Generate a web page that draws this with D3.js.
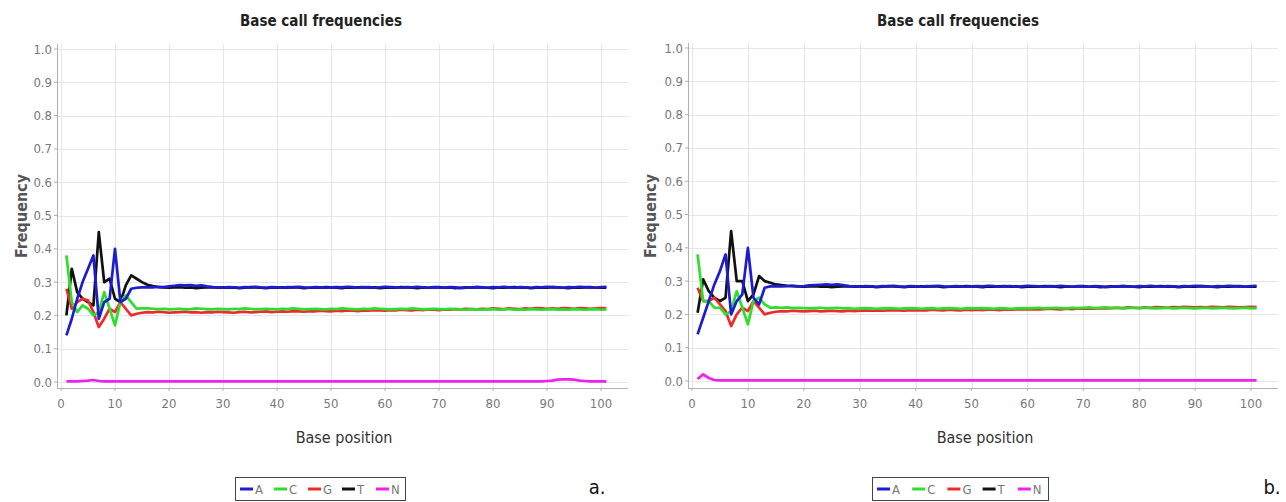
<!DOCTYPE html>
<html>
<head>
<meta charset="utf-8">
<script src="https://cdn.jsdelivr.net/npm/d3@7"></script>
<style>
  body { margin: 0; background: #fff; }
  text { font-family: "DejaVu Sans Condensed", "Liberation Sans Narrow", sans-serif; }
</style>
</head>
<body>
<svg id="chart" width="1286" height="502"></svg>
<script>
// ---- data ----
var positions = d3.range(1, 102);
var bases = ["A", "C", "G", "T", "N"];
var baseColors = ["#1c1cd0", "#2edd2e", "#ee2a2a", "#111111", "#ee22ee"];
var yTicks = [0, 0.1, 0.2, 0.3, 0.4, 0.5, 0.6, 0.7, 0.8, 0.9, 1.0];
var xTicks = [0, 10, 20, 30, 40, 50, 60, 70, 80, 90, 100];

// sample a.
var aA = [0.140,0.190,0.250,0.300,0.340,0.380,0.190,0.240,0.250,0.400,0.240,0.250,0.280,0.283,0.284,
  0.285,0.284,0.286,0.285,0.287,0.289,0.291,0.290,0.291,0.289,0.290,0.287,0.285,0.284,0.283,
  0.285,0.284,0.283,0.285,0.284,0.286,0.284,0.283,0.285,0.284,
  0.283,0.285,0.284,0.286,0.284,0.283,0.285,0.284,0.283,0.284,
  0.285,0.284,0.286,0.285,0.283,0.284,0.285,0.283,0.284,0.286,
  0.285,0.284,0.283,0.285,0.284,0.286,0.284,0.283,0.285,0.284,
  0.283,0.285,0.284,0.282,0.283,0.284,0.285,0.284,0.283,0.285,
  0.284,0.286,0.284,0.283,0.285,0.284,0.283,0.285,0.284,0.286,
  0.285,0.284,0.283,0.285,0.284,0.286,0.285,0.284,0.283,0.285,0.286];
var aC = [0.380,0.240,0.210,0.230,0.220,0.200,0.210,0.270,0.220,0.170,0.240,0.260,0.240,0.220,0.222,
  0.221,0.220,0.219,0.220,0.218,
  0.219,0.220,0.218,0.219,0.221,0.220,0.219,0.218,0.220,0.219,
  0.218,0.220,0.219,0.221,0.220,0.218,0.219,0.220,0.219,0.218,
  0.220,0.219,0.221,0.220,0.218,0.219,0.220,0.219,0.218,0.220,
  0.219,0.221,0.220,0.219,0.218,0.220,0.219,0.221,0.220,0.219,
  0.218,0.219,0.220,0.219,0.221,0.220,0.218,0.219,0.220,0.219,
  0.218,0.220,0.219,0.218,0.217,0.219,0.218,0.217,0.218,0.219,
  0.217,0.218,0.219,0.217,0.218,0.217,0.219,0.218,0.217,0.218,
  0.219,0.217,0.218,0.217,0.219,0.218,0.217,0.218,0.219,0.217,0.218];
var aG = [0.280,0.220,0.240,0.250,0.245,0.210,0.165,0.190,0.220,0.210,0.240,0.220,0.200,0.205,0.208,
  0.210,0.209,0.211,0.210,0.208,
  0.209,0.210,0.211,0.209,0.210,0.208,0.210,0.209,0.211,0.210,
  0.209,0.208,0.210,0.211,0.209,0.210,0.211,0.212,0.210,0.211,
  0.212,0.211,0.213,0.212,0.211,0.213,0.212,0.214,0.213,0.212,
  0.214,0.213,0.215,0.214,0.213,0.215,0.214,0.216,0.215,0.214,
  0.216,0.215,0.217,0.216,0.215,0.217,0.216,0.218,0.217,0.216,
  0.218,0.217,0.219,0.218,0.220,0.219,0.218,0.220,0.219,0.221,
  0.220,0.219,0.221,0.220,0.219,0.221,0.220,0.222,0.221,0.220,
  0.221,0.220,0.222,0.221,0.220,0.222,0.221,0.220,0.221,0.222,0.221];
var aT = [0.200,0.340,0.270,0.250,0.240,0.230,0.450,0.300,0.310,0.250,0.240,0.290,0.320,0.310,0.300,
  0.292,0.288,0.285,0.284,0.283,
  0.284,0.285,0.283,0.284,0.282,0.283,0.284,0.285,0.283,0.284,
  0.283,0.284,0.282,0.283,0.285,0.284,0.283,0.282,0.284,0.283,
  0.284,0.283,0.285,0.284,0.282,0.283,0.284,0.283,0.285,0.284,
  0.283,0.282,0.284,0.283,0.284,0.285,0.283,0.284,0.282,0.283,
  0.284,0.283,0.285,0.284,0.283,0.282,0.284,0.283,0.284,0.285,
  0.283,0.284,0.282,0.283,0.284,0.283,0.285,0.284,0.283,0.282,
  0.284,0.283,0.284,0.285,0.283,0.284,0.282,0.283,0.284,0.283,
  0.285,0.284,0.283,0.282,0.284,0.283,0.284,0.285,0.283,0.284,0.283];
var aN = [0.002,0.002,0.002,0.003,0.004,0.006,0.003,0.002,0.002,0.002,
  0.002,0.002,0.002,0.002,0.002,0.002,0.002,0.002,0.002,0.002,
  0.002,0.002,0.002,0.002,0.002,0.002,0.002,0.002,0.002,0.002,
  0.002,0.002,0.002,0.002,0.002,0.002,0.002,0.002,0.002,0.002,
  0.002,0.002,0.002,0.002,0.002,0.002,0.002,0.002,0.002,0.002,
  0.002,0.002,0.002,0.002,0.002,0.002,0.002,0.002,0.002,0.002,
  0.002,0.002,0.002,0.002,0.002,0.002,0.002,0.002,0.002,0.002,
  0.002,0.002,0.002,0.002,0.002,0.002,0.002,0.002,0.002,0.002,
  0.002,0.002,0.002,0.002,0.002,0.002,0.002,0.002,0.002,0.003,
  0.004,0.007,0.008,0.008,0.007,0.004,0.003,0.002,0.002,0.002,0.002];

// sample b.
var bA = [0.140,0.190,0.240,0.290,0.330,0.380,0.200,0.240,0.260,0.400,0.250,0.230,0.280,0.284,0.285,
  0.284,0.285,0.286,0.284,0.285,0.287,0.288,0.289,0.290,0.289,0.290,0.288,0.285,0.284,0.283,
  0.285,0.284,0.283,0.285,0.284,0.286,0.284,0.283,0.285,0.284,
  0.283,0.285,0.284,0.286,0.284,0.283,0.285,0.284,0.283,0.284,
  0.285,0.284,0.286,0.285,0.283,0.284,0.285,0.283,0.284,0.286,
  0.285,0.284,0.283,0.285,0.284,0.286,0.284,0.283,0.285,0.284,
  0.283,0.285,0.284,0.282,0.283,0.284,0.285,0.284,0.283,0.285,
  0.284,0.286,0.284,0.283,0.285,0.284,0.283,0.285,0.284,0.286,
  0.285,0.284,0.283,0.285,0.284,0.286,0.285,0.284,0.283,0.285,0.286];
var bC = [0.380,0.240,0.240,0.220,0.220,0.200,0.210,0.270,0.220,0.170,0.240,0.250,0.230,0.220,0.221,
  0.220,0.221,0.219,0.220,0.219,
  0.218,0.219,0.220,0.218,0.219,0.220,0.218,0.219,0.217,0.218,
  0.219,0.218,0.217,0.218,0.219,0.218,0.217,0.218,0.219,0.218,
  0.217,0.218,0.219,0.217,0.218,0.219,0.218,0.217,0.218,0.219,
  0.218,0.219,0.218,0.217,0.219,0.218,0.217,0.218,0.219,0.218,
  0.219,0.220,0.218,0.219,0.220,0.219,0.218,0.220,0.219,0.220,
  0.221,0.219,0.220,0.221,0.219,0.220,0.218,0.219,0.220,0.219,
  0.220,0.219,0.218,0.219,0.220,0.218,0.219,0.220,0.219,0.218,
  0.219,0.220,0.218,0.219,0.220,0.219,0.218,0.219,0.220,0.218,0.219];
var bG = [0.280,0.240,0.240,0.250,0.230,0.210,0.165,0.200,0.220,0.210,0.240,0.220,0.200,0.205,0.208,
  0.210,0.209,0.211,0.210,0.209,
  0.210,0.211,0.209,0.210,0.211,0.210,0.209,0.211,0.210,0.211,
  0.212,0.211,0.212,0.211,0.212,0.213,0.212,0.211,0.213,0.212,
  0.213,0.212,0.214,0.213,0.212,0.214,0.213,0.212,0.214,0.213,
  0.214,0.213,0.215,0.214,0.213,0.215,0.214,0.215,0.216,0.215,
  0.216,0.215,0.216,0.217,0.216,0.215,0.217,0.216,0.218,0.217,
  0.218,0.217,0.219,0.218,0.219,0.220,0.219,0.221,0.220,0.219,
  0.221,0.220,0.222,0.221,0.220,0.222,0.221,0.223,0.222,0.221,
  0.222,0.221,0.223,0.222,0.221,0.223,0.222,0.221,0.222,0.223,0.222];
var bT = [0.205,0.305,0.270,0.250,0.240,0.250,0.450,0.300,0.300,0.240,0.260,0.315,0.300,0.295,0.290,
  0.288,0.286,0.285,0.284,0.283,
  0.284,0.285,0.283,0.284,0.282,0.283,0.284,0.285,0.283,0.284,
  0.283,0.284,0.282,0.283,0.285,0.284,0.283,0.282,0.284,0.283,
  0.284,0.283,0.285,0.284,0.282,0.283,0.284,0.283,0.285,0.284,
  0.283,0.282,0.284,0.283,0.284,0.285,0.283,0.284,0.282,0.283,
  0.284,0.283,0.285,0.284,0.283,0.282,0.284,0.283,0.284,0.285,
  0.283,0.284,0.282,0.283,0.284,0.283,0.285,0.284,0.283,0.282,
  0.284,0.283,0.284,0.285,0.283,0.284,0.282,0.283,0.284,0.283,
  0.285,0.284,0.283,0.282,0.284,0.283,0.284,0.285,0.283,0.284,0.283];
var bN = [0.006,0.020,0.009,0.003,0.002,0.002,0.002,0.002,0.002,0.002,
  0.002,0.002,0.002,0.002,0.002,0.002,0.002,0.002,0.002,0.002,
  0.002,0.002,0.002,0.002,0.002,0.002,0.002,0.002,0.002,0.002,
  0.002,0.002,0.002,0.002,0.002,0.002,0.002,0.002,0.002,0.002,
  0.002,0.002,0.002,0.002,0.002,0.002,0.002,0.002,0.002,0.002,
  0.002,0.002,0.002,0.002,0.002,0.002,0.002,0.002,0.002,0.002,
  0.002,0.002,0.002,0.002,0.002,0.002,0.002,0.002,0.002,0.002,
  0.002,0.002,0.002,0.002,0.002,0.002,0.002,0.002,0.002,0.002,
  0.002,0.002,0.002,0.002,0.002,0.002,0.002,0.002,0.002,0.002,
  0.002,0.002,0.002,0.002,0.002,0.002,0.002,0.002,0.002,0.002,0.002];

var panels = [
  { label: "a.", series: [aA, aC, aG, aT, aN],
    axisX: 57, x0: 61, x100: 601, right: 628, top: 44, y1: 49, y0: 382, axisY: 388,
    titleX: 321, freqX: 27, bpX: 344, legendX: 235, legendW: 170, labelX: 597 },
  { label: "b.", series: [bA, bC, bG, bT, bN],
    axisX: 688, x0: 692, x100: 1251, right: 1278, top: 43, y1: 48, y0: 381, axisY: 388,
    titleX: 958, freqX: 656, bpX: 985, legendX: 872, legendW: 176, labelX: 1272 }
];

var svg = d3.select("#chart");

panels.forEach(function (p) {
  var g = svg.append("g");
  var x = d3.scaleLinear().domain([0, 100]).range([p.x0, p.x100]);
  var y = d3.scaleLinear().domain([0, 1]).range([p.y0, p.y1]);

  // grid
  g.selectAll(".hgrid").data(yTicks).enter().append("line")
    .attr("x1", p.axisX).attr("x2", p.right)
    .attr("y1", function (d) { return Math.round(y(d)) + 0.5; })
    .attr("y2", function (d) { return Math.round(y(d)) + 0.5; })
    .attr("stroke", "#e6e6e6").attr("stroke-width", 1);
  g.selectAll(".vgrid").data(xTicks).enter().append("line")
    .attr("y1", p.top).attr("y2", p.axisY)
    .attr("x1", function (d) { return Math.round(x(d)) + 0.5; })
    .attr("x2", function (d) { return Math.round(x(d)) + 0.5; })
    .attr("stroke", "#e6e6e6").attr("stroke-width", 1);

  // axes lines
  g.append("line").attr("x1", p.axisX + 0.5).attr("x2", p.axisX + 0.5)
    .attr("y1", p.top).attr("y2", p.axisY).attr("stroke", "#b0b0b0");
  g.append("line").attr("x1", p.axisX).attr("x2", p.right)
    .attr("y1", p.axisY + 0.5).attr("y2", p.axisY + 0.5).attr("stroke", "#b0b0b0");

  // y ticks
  var yt = g.selectAll(".ytick").data(yTicks).enter().append("g")
    .attr("transform", function (d) { return "translate(0," + y(d) + ")"; });
  yt.append("line").attr("x1", p.axisX - 3).attr("x2", p.axisX).attr("stroke", "#b0b0b0");
  yt.append("text").attr("x", p.axisX - 5).attr("dy", "0.35em")
    .attr("text-anchor", "end").attr("font-size", 13).attr("fill", "#777")
    .text(function (d) { return d3.format(".1f")(d); });

  // x ticks
  var xt = g.selectAll(".xtick").data(xTicks).enter().append("g")
    .attr("transform", function (d) { return "translate(" + x(d) + ",0)"; });
  xt.append("line").attr("y1", p.axisY).attr("y2", p.axisY + 3).attr("stroke", "#b0b0b0");
  xt.append("text").attr("y", p.axisY + 20).attr("text-anchor", "middle")
    .attr("font-size", 13).attr("fill", "#777").text(function (d) { return d; });

  // series, drawn in reverse so A is on top
  var line = d3.line().x(function (d, i) { return x(positions[i]); })
    .y(function (d) { return y(d); });
  for (var s = bases.length - 1; s >= 0; s--) {
    g.append("path").datum(p.series[s]).attr("d", line)
      .attr("fill", "none").attr("stroke", baseColors[s])
      .attr("stroke-width", 2.7).attr("stroke-linejoin", "round");
  }

  // titles
  g.append("text").attr("x", p.titleX).attr("y", 26).attr("text-anchor", "middle")
    .attr("font-size", 15).attr("font-weight", "bold").attr("fill", "#222")
    .text("Base call frequencies");
  g.append("text").attr("transform", "translate(" + p.freqX + ",216) rotate(-90)")
    .attr("text-anchor", "middle").attr("font-size", 16).attr("font-weight", "bold")
    .attr("fill", "#555").attr("font-family", "DejaVu Sans").text("Frequency");
  g.append("text").attr("x", p.bpX).attr("y", 443).attr("text-anchor", "middle")
    .attr("font-size", 16).attr("fill", "#333").text("Base position");

  // legend
  var lg = g.append("g").attr("transform", "translate(" + p.legendX + ",477)");
  lg.append("rect").attr("x", 0.5).attr("y", 0.5).attr("width", p.legendW).attr("height", 23)
    .attr("fill", "#fff").attr("stroke", "#444");
  var step = p.legendW / 5;
  var items = lg.selectAll(".item").data(bases).enter().append("g")
    .attr("transform", function (d, i) { return "translate(" + (5 + i * step) + ",12)"; });
  items.append("line").attr("x1", 0).attr("x2", 13)
    .attr("stroke", function (d, i) { return baseColors[i]; }).attr("stroke-width", 3);
  items.append("text").attr("x", 15).attr("dy", "0.35em").attr("font-size", 13)
    .attr("fill", "#777").text(function (d) { return d; });

  g.append("text").attr("x", p.labelX).attr("y", 494).attr("text-anchor", "middle")
    .attr("font-size", 20).attr("fill", "#111").attr("font-family", "DejaVu Sans")
    .text(p.label);
});
</script>
</body>
</html>
